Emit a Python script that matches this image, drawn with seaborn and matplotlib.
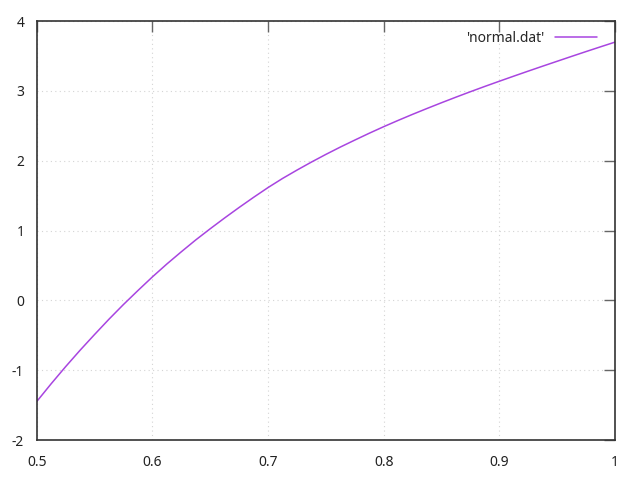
import matplotlib
matplotlib.use("Agg")
import matplotlib.pyplot as plt
import seaborn as sns
import pandas as pd

# valeurs
x_vals = [0.5, 0.5125, 0.525, 0.5375, 0.55, 0.5625, 0.575, 0.5875, 0.6, 0.6125,
          0.625, 0.6375, 0.65, 0.6625, 0.675, 0.6875, 0.7, 0.7125, 0.725, 0.7375,
          0.75, 0.7625, 0.775, 0.7875, 0.8, 0.8125, 0.825, 0.8375, 0.85, 0.8625,
          0.875, 0.8875, 0.9, 0.9125, 0.925, 0.9375, 0.95, 0.9625, 0.975, 0.9875, 1.0]
y_vals = [-1.45, -1.195, -0.95, -0.715, -0.49, -0.27, -0.06, 0.14, 0.335, 0.52,
          0.695, 0.865, 1.025, 1.18, 1.33, 1.475, 1.615, 1.745, 1.865, 1.98,
          2.09, 2.195, 2.295, 2.393, 2.487, 2.577, 2.664, 2.748, 2.83, 2.91,
          2.988, 3.064, 3.138, 3.211, 3.283, 3.354, 3.424, 3.494, 3.563, 3.631, 3.698]
x_ticks = [0.5, 0.6, 0.7, 0.8, 0.9, 1.0]
x_labels = ["0.5", "0.6", "0.7", "0.8", "0.9", "1"]
y_ticks = [-2, -1, 0, 1, 2, 3, 4]
y_labels = ["-2", "-1", "0", "1", "2", "3", "4"]
series_name = "'normal.dat'"

df = pd.DataFrame({"x": x_vals, "y": y_vals})

sns.set_style("white")
plt.rcParams["font.family"] = ["Noto Sans", "DejaVu Sans"]
plt.rcParams["axes.unicode_minus"] = False

fig = plt.figure(figsize=(6.4, 4.8), dpi=100)
ax = fig.add_axes([0.0573, 0.0833, 0.9037, 0.8729])

sns.lineplot(data=df, x="x", y="y", ax=ax, color="#a845e0", lw=1.1,
             label=series_name)

ax.set_xlim(0.5, 1.0)
ax.set_ylim(-2, 4)
ax.set_xticks(x_ticks)
ax.set_xticklabels(x_labels)
ax.set_yticks(y_ticks)
ax.set_yticklabels(y_labels)
ax.set_xlabel("")
ax.set_ylabel("")

ax.grid(True, color="#d4d4d4", linestyle=(0, (1, 3)), lw=0.8)
for s in ax.spines.values():
    s.set_visible(True)
    s.set_color("#333333")
    s.set_linewidth(1.2)

ax.tick_params(direction="in", length=8, width=1, color="#666666",
               top=True, right=True, labelsize=10, pad=9, labelcolor="#222222")
ax.tick_params(axis="x", pad=11)

leg = ax.legend(loc="upper right", frameon=False, markerfirst=False,
                fontsize=10, handlelength=3.0, handletextpad=0.8,
                borderaxespad=0.3, bbox_to_anchor=(0.985, 1.0))

fig.savefig("out.png", dpi=100)
